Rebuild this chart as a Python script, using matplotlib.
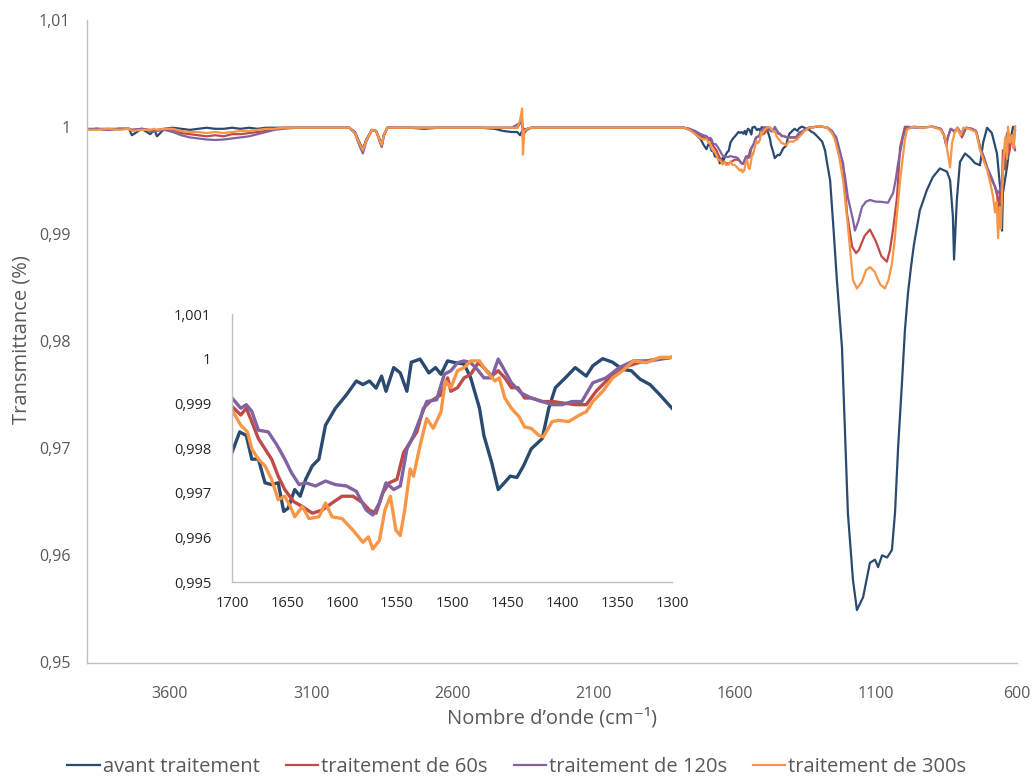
import matplotlib
matplotlib.use("Agg")
import matplotlib.pyplot as plt
from matplotlib.ticker import FuncFormatter

plt.rcParams['font.family'] = ['Open Sans', 'DejaVu Sans']

SERIES_NAMES = ["avant traitement", "traitement de 60s", "traitement de 120s", "traitement de 300s"]
COLORS = ['#2b4a6f', '#be4b48', '#8064a2', '#f79646']

# partie haute du spectre (3900 -> 1800 cm-1), grille commune
wn_high = [3894, 3860, 3820, 3780, 3745, 3735, 3700, 3670, 3655, 3646,
           3620, 3590, 3560, 3530, 3500, 3470, 3440, 3410, 3380, 3350,
           3320, 3290, 3260, 3230, 3200, 3150, 3100, 3050, 3000, 2965,
           2945, 2930, 2917, 2905, 2885, 2870, 2857, 2850, 2843, 2830,
           2800, 2750, 2700, 2650, 2600, 2550, 2500, 2450, 2420, 2390,
           2370, 2360, 2353, 2350, 2345, 2335, 2320, 2300, 2250, 2200,
           2150, 2100, 2050, 2000, 1950, 1900, 1850, 1800]

avant_high = [0.9997, 0.9998, 0.9997, 0.9998, 0.9998, 0.9992, 0.9998, 0.9993, 0.9997, 0.9991,
              0.9998, 0.9999, 0.9998, 0.9997, 0.9998, 0.9999, 0.9998, 0.9998, 0.9999, 0.9998,
              0.9999, 0.9998, 0.9999, 0.9999, 0.9999, 0.9999, 0.9999, 0.9999, 0.9999, 0.9999,
              0.9995, 0.9986, 0.9979, 0.9988, 0.9997, 0.9996, 0.9988, 0.9983, 0.9992, 0.9999,
              0.9999, 0.9999, 0.9998, 0.9999, 0.9999, 0.9999, 0.9999, 0.9998, 0.9996, 0.9995,
              0.9995, 0.9992, 0.9996, 0.9997, 0.9994, 0.9998, 0.9999, 0.9999, 0.9999, 0.9999,
              0.9999, 0.9999, 0.9999, 0.9999, 0.9999, 0.9999, 0.9999, 0.9999]
t60_high = [0.9997, 0.9998, 0.9998, 0.9998, 0.9998, 0.9997, 0.9998, 0.9997, 0.9996, 0.9997,
            0.9998, 0.9997, 0.9994, 0.9993, 0.9992, 0.9991, 0.9992, 0.9991, 0.9993, 0.9993,
            0.9994, 0.9995, 0.9996, 0.9998, 0.9999, 0.9999, 0.9999, 0.9999, 0.9999, 0.9999,
            0.9994, 0.9984, 0.9977, 0.9987, 0.9997, 0.9996, 0.9987, 0.9982, 0.9992, 0.9999,
            0.9999, 0.9999, 0.9999, 0.9999, 0.9999, 0.9999, 0.9999, 0.9999, 0.9999, 0.9999,
            0.9999, 1.0003, 1.0008, 0.9990, 0.9998, 0.9997, 0.9999, 0.9999, 0.9999, 0.9999,
            0.9999, 0.9999, 0.9999, 0.9999, 0.9999, 0.9999, 0.9999, 0.9999]
t120_high = [0.9998, 0.9998, 0.9997, 0.9998, 0.9998, 0.9997, 0.9998, 0.9996, 0.9995, 0.9996,
             0.9997, 0.9995, 0.9992, 0.9990, 0.9989, 0.9988, 0.99876, 0.9988, 0.9989, 0.9990,
             0.9991, 0.9993, 0.9995, 0.9997, 0.9998, 0.9999, 0.9999, 0.9999, 0.9999, 0.9999,
             0.9994, 0.9983, 0.9975, 0.9986, 0.9997, 0.9996, 0.9986, 0.9981, 0.9991, 0.9999,
             0.9999, 0.9999, 0.9999, 0.9999, 0.9999, 0.9999, 0.9999, 0.9999, 0.9999, 0.9999,
             1.0002, 1.0004, 1.0003, 0.9994, 0.9997, 0.9998, 0.9999, 0.9999, 0.9999, 0.9999,
             0.9999, 0.9999, 0.9999, 0.9999, 0.9999, 0.9999, 0.9999, 0.9999]
t300_high = [0.9997, 0.9997, 0.9998, 0.9997, 0.9998, 0.9996, 0.9997, 0.9997, 0.9998, 0.9997,
             0.9998, 0.9998, 0.9996, 0.9995, 0.9995, 0.9994, 0.9995, 0.9994, 0.9995, 0.9996,
             0.9996, 0.9997, 0.9998, 0.9998, 0.9999, 0.9999, 0.9999, 0.9999, 0.9999, 0.9999,
             0.9994, 0.9985, 0.9978, 0.9987, 0.9997, 0.9996, 0.9987, 0.9983, 0.9992, 0.9999,
             0.9999, 0.9999, 0.9999, 0.9999, 0.9999, 0.9999, 0.9999, 0.9999, 0.9999, 0.9999,
             0.9999, 1.0006, 1.0017, 0.9974, 0.9996, 0.9998, 0.9999, 0.9999, 0.9999, 0.9999,
             0.9999, 0.9999, 0.9999, 0.9999, 0.9999, 0.9999, 0.9999, 0.9999]

# partie basse (1780 -> 600 cm-1), points propres a chaque courbe
avant_low_x = [1780, 1760, 1741, 1720, 1710,
               1700, 1693, 1687, 1682, 1676, 1670, 1664, 1658, 1653, 1649, 1643, 1638, 1633, 1627, 1621,
               1615, 1606, 1596, 1587, 1581, 1575, 1569, 1564, 1560, 1553, 1547, 1541, 1537, 1529, 1521,
               1515, 1510, 1504, 1497, 1489, 1483, 1475, 1471, 1464, 1458, 1454, 1447, 1441, 1435, 1428,
               1418, 1412, 1406, 1397, 1388, 1378, 1372, 1363, 1354, 1345, 1337, 1329, 1320, 1311, 1300,
               1290, 1280, 1272, 1262, 1250, 1238, 1220, 1199, 1181, 1167, 1145, 1121, 1103, 1092, 1078,
               1060, 1043, 1032, 1021, 1007, 997, 986, 975, 965, 944, 919, 898, 873, 848, 837,
               827, 823, 818, 813, 802, 784, 766, 749, 731, 720, 706, 689, 671, 660, 653,
               650, 635, 625, 614, 607]
avant_low_y = [0.9999, 0.9997, 0.9994, 0.9988, 0.9983,
               0.99790, 0.99836, 0.99828, 0.99775, 0.99775, 0.99722, 0.99718, 0.99722, 0.99658, 0.99665,
               0.99707, 0.99692, 0.99730, 0.99760, 0.99775,
               0.99851, 0.99889, 0.99919, 0.99950, 0.99942, 0.99950, 0.99934, 0.99961, 0.99927, 0.99980,
               0.99968, 0.99927, 0.99992, 0.99999, 0.99968,
               0.99980, 0.99965, 0.99995, 0.99991, 0.99988, 0.99957, 0.99889, 0.99828, 0.99768, 0.99707,
               0.99718, 0.99737, 0.99734, 0.99760, 0.99798,
               0.99821, 0.99889, 0.99935, 0.99957, 0.99980, 0.99961, 0.99984, 1.00000, 0.99992, 0.99976,
               0.99973, 0.99954, 0.99942, 0.99919, 0.99889,
               0.9986, 0.9978, 0.9965, 0.9950, 0.9905, 0.98569, 0.97944, 0.96395, 0.95770, 0.95490,
               0.9561, 0.9593, 0.9596, 0.9589, 0.9600,
               0.9598, 0.9605, 0.9640, 0.9701, 0.9763, 0.9810, 0.9845, 0.9870, 0.9890, 0.9922,
               0.9941, 0.9953, 0.9961, 0.9958, 0.9950,
               0.9916, 0.9876, 0.9905, 0.9932, 0.9967, 0.9975, 0.9971, 0.9966, 0.9964, 0.9985,
               0.9999, 0.9994, 0.9975, 0.9944, 0.9903,
               0.9938, 0.9963, 0.9985, 1.0000, 0.9997]

t60_low_x = [1780, 1760, 1740, 1720, 1710,
             1700, 1692, 1687, 1682, 1676, 1670, 1664, 1658, 1652, 1644, 1636, 1627, 1618, 1609, 1600,
             1590, 1581, 1575, 1569, 1563, 1557, 1550, 1544, 1538, 1532, 1526, 1520, 1510, 1504, 1501,
             1495, 1489, 1483, 1476, 1471, 1464, 1458, 1452, 1446, 1440, 1434, 1428, 1418, 1408, 1397,
             1388, 1378, 1369, 1357, 1345, 1329, 1314, 1300,
             1290, 1273, 1260, 1245, 1230, 1216, 1202, 1184, 1170, 1160, 1140, 1121, 1100, 1080, 1061,
             1050, 1039, 1025, 1014, 997, 980, 960, 940, 900, 870, 860, 852, 845, 835, 820,
             812, 795, 780, 760, 745, 731, 715, 706, 689, 678, 670, 665, 660, 655, 650,
             642, 635, 628, 618, 612, 607]
t60_low_y = [0.9999, 0.9998, 0.9995, 0.9991, 0.9990,
             0.99893, 0.99874, 0.99889, 0.99859, 0.99821, 0.99798, 0.99775, 0.99737, 0.99707, 0.99680,
             0.99669, 0.99654, 0.99661, 0.99677, 0.99692,
             0.99692, 0.99677, 0.99661, 0.99654, 0.99699, 0.99722, 0.99730, 0.99790, 0.99813, 0.99836,
             0.99889, 0.99904, 0.99919, 0.99957, 0.99927,
             0.99935, 0.99957, 0.99965, 0.99991, 0.99980, 0.99961, 0.99973, 0.99957, 0.99935, 0.99935,
             0.99912, 0.99912, 0.99904, 0.99904, 0.99900,
             0.99897, 0.99897, 0.99927, 0.99957, 0.99980, 0.99992, 0.99999, 1.00003,
             1.0000, 0.9999, 0.9996, 0.9990, 0.9978, 0.9966, 0.9919, 0.9888, 0.9882, 0.9885,
             0.9898, 0.9904, 0.9893, 0.9879, 0.9874,
             0.9885, 0.9904, 0.9934, 0.9981, 1.0000, 0.9999, 1.0000, 0.9999, 1.0000, 0.9998,
             0.9993, 0.9984, 0.9990, 0.9998, 0.9995,
             0.9999, 0.9990, 0.9999, 0.9998, 0.9996, 0.9981, 0.9970, 0.9962, 0.9950, 0.9944,
             0.9935, 0.9920, 0.9941, 0.9930, 0.9978,
             0.9960, 0.9994, 0.9975, 0.9992, 0.9980, 1.0000]

t120_low_x = [1780, 1760, 1740, 1720, 1710,
              1700, 1692, 1687, 1682, 1676, 1667, 1659, 1652, 1646, 1639, 1633, 1624, 1615, 1606, 1596,
              1587, 1578, 1572, 1566, 1560, 1553, 1547, 1541, 1535, 1529, 1523, 1514, 1507, 1501, 1495,
              1489, 1483, 1476, 1471, 1464, 1458, 1452, 1446, 1437, 1428, 1418, 1409, 1400, 1391, 1382,
              1372, 1360, 1348, 1335, 1320, 1300,
              1290, 1270, 1255, 1240, 1225, 1210, 1199, 1181, 1174, 1162, 1149, 1135, 1121, 1100, 1085,
              1057, 1039, 1030, 1021, 1004, 990, 960, 900, 870, 858, 850, 845, 835, 820, 810,
              795, 780, 760, 745, 731, 715, 706, 689, 678, 668, 660, 652, 645, 635, 625,
              615, 607]
t120_low_y = [0.9999, 0.9998, 0.9996, 0.9993, 0.9992,
              0.99912, 0.99889, 0.99897, 0.99882, 0.99840, 0.99836, 0.99806, 0.99775, 0.99745, 0.99718,
              0.99722, 0.99715, 0.99726, 0.99718, 0.99715,
              0.99703, 0.99661, 0.99650, 0.99677, 0.99722, 0.99707, 0.99715, 0.99798, 0.99828, 0.99866,
              0.99904, 0.99908, 0.99965, 0.99973, 0.99991,
              0.99995, 0.99991, 0.99973, 0.99957, 0.99957, 0.99999, 0.99973, 0.99946, 0.99923, 0.99912,
              0.99904, 0.99897, 0.99897, 0.99904, 0.99904,
              0.99946, 0.99957, 0.99980, 0.99995, 0.99995, 1.00003,
              1.0000, 0.9999, 0.9996, 0.9990, 0.9975, 0.9955, 0.9934, 0.9913, 0.9903, 0.9912,
              0.9925, 0.9930, 0.99316, 0.9930, 0.9930,
              0.9929, 0.9938, 0.9950, 0.9966, 0.9990, 1.0000, 0.9999, 1.0000, 0.9998, 0.9992,
              0.9982, 0.9990, 0.9998, 0.9996, 0.9999,
              0.9992, 0.9999, 0.9998, 0.9996, 0.9981, 0.9968, 0.9962, 0.9952, 0.9944, 0.9938,
              0.9941, 0.9950, 0.9975, 0.9994, 0.9985,
              0.9990, 0.9978]

t300_low_x = [1780, 1760, 1740, 1720, 1710,
              1700, 1692, 1686, 1682, 1676, 1670, 1664, 1658, 1652, 1647, 1643, 1636, 1630, 1621, 1615,
              1609, 1600, 1590, 1581, 1576, 1572, 1566, 1561, 1556, 1551, 1547, 1543, 1538, 1535, 1529,
              1523, 1517, 1510, 1506, 1501, 1495, 1489, 1483, 1475, 1469, 1461, 1457, 1452, 1446, 1439,
              1434, 1428, 1421, 1417, 1409, 1403, 1394, 1384, 1378, 1372, 1363, 1354, 1345, 1335, 1323,
              1311, 1300,
              1290, 1273, 1255, 1245, 1230, 1216, 1200, 1192, 1181, 1167, 1150, 1135, 1121, 1105, 1085,
              1068, 1055, 1043, 1033, 1025, 1014, 1007, 997, 990, 970, 940, 900, 870, 855, 845,
              837, 830, 820, 812, 800, 790, 770, 745, 731, 715, 706, 695, 685, 678, 672,
              667, 662, 657, 650, 642, 635, 632, 625, 618, 612, 607]
t300_low_y = [0.9999, 0.9997, 0.9993, 0.9989, 0.9988,
              0.99885, 0.99851, 0.99836, 0.99798, 0.99775, 0.99760, 0.99730, 0.99684, 0.99692, 0.99669,
              0.99646, 0.99669, 0.99642, 0.99646, 0.99677,
              0.99646, 0.99642, 0.99616, 0.99589, 0.99601, 0.99574, 0.99593, 0.99661, 0.99692, 0.99616,
              0.99604, 0.99661, 0.99753, 0.99737, 0.99806,
              0.99866, 0.99844, 0.99881, 0.99950, 0.99935, 0.99973, 0.99980, 0.99995, 0.99995, 0.99973,
              0.99950, 0.99957, 0.99912, 0.99889, 0.99870,
              0.99847, 0.99844, 0.99828, 0.99825, 0.99859, 0.99862, 0.99859, 0.99874, 0.99881, 0.99904,
              0.99927, 0.99957, 0.99973, 0.99995, 0.99991,
              1.00003, 1.00003,
              1.0000, 0.9999, 0.9994, 0.9988, 0.9972, 0.9950, 0.9910, 0.9888, 0.9857, 0.9849,
              0.9855, 0.9866, 0.9869, 0.9865, 0.9853,
              0.9849, 0.9857, 0.9872, 0.9895, 0.9919, 0.9950, 0.9966, 0.9988, 0.9997, 1.0000,
              0.9999, 1.0000, 0.9997, 0.9990, 0.9975,
              0.9962, 0.9985, 0.9995, 0.9999, 0.9992, 0.9999, 0.9998, 0.9995, 0.9978, 0.9966,
              0.9960, 0.9948, 0.9935, 0.9920, 0.9930,
              0.9896, 0.9925, 0.9905, 0.9960, 0.9990, 0.9970, 1.0000, 0.9985, 0.9992, 0.9980,
              1.0000]

main_xticks = [3600, 3100, 2600, 2100, 1600, 1100, 600]
main_yticks = [0.95, 0.96, 0.97, 0.98, 0.99, 1.0, 1.01]
inset_xticks = [1700, 1650, 1600, 1550, 1500, 1450, 1400, 1350, 1300]
inset_yticks = [0.995, 0.996, 0.997, 0.998, 0.999, 1.0, 1.001]

series = [
    (wn_high + avant_low_x, avant_high + avant_low_y),
    (wn_high + t60_low_x, t60_high + t60_low_y),
    (wn_high + t120_low_x, t120_high + t120_low_y),
    (wn_high + t300_low_x, t300_high + t300_low_y),
]


def virgule(v, pos=None):
    return f"{round(v, 4):g}".replace('.', ',')


W, H = 1034, 780
fig = plt.figure(figsize=(W / 100, H / 100), dpi=100)
ax = fig.add_axes([87 / W, 1 - 662.5 / H, (1017 - 87) / W, (662.5 - 19.5) / H])

for (x, y), c, nom in zip(series, COLORS, SERIES_NAMES):
    ax.plot(x, y, color=c, lw=1.6, label=nom)

ax.set_xlim(3894, 600)
ax.set_ylim(0.95, 1.01)
ax.set_xticks(main_xticks)
ax.set_yticks(main_yticks)
ax.yaxis.set_major_formatter(FuncFormatter(virgule))
ax.tick_params(length=0, labelsize=11.5, labelcolor='#595959')
ax.tick_params(axis='y', pad=12)
ax.tick_params(axis='x', pad=17)
for s in ['top', 'right']:
    ax.spines[s].set_visible(False)
for s in ['left', 'bottom']:
    ax.spines[s].set_color('#bfbfbf')
    ax.spines[s].set_linewidth(1.0)

fig.text(22 / W, 1 - 340 / H, "Transmittance (%)", rotation=90, ha='center', va='center',
         fontsize=14.5, color='#595959')
fig.text(552 / W, 1 - 718 / H, "Nombre d\u2019onde (cm\u207b\u00b9)", ha='center', va='center',
         fontsize=14.5, color='#595959', family=['Open Sans', 'DejaVu Sans'])

# encart 1700-1300
axi = fig.add_axes([232 / W, 1 - 582 / H, (672 - 232) / W, (582 - 314) / H])
for (x, y), c in zip(series, COLORS):
    axi.plot(x, y, color=c, lw=2.4)
axi.set_xlim(1700, 1300)
axi.set_ylim(0.995, 1.001)
axi.set_xticks(inset_xticks)
axi.set_yticks(inset_yticks)
axi.yaxis.set_major_formatter(FuncFormatter(virgule))
axi.tick_params(length=0, labelsize=10.5, labelcolor='#262626')
axi.tick_params(axis='y', pad=15)
axi.tick_params(axis='x', pad=10)
for s in ['top', 'right']:
    axi.spines[s].set_visible(False)
for s in ['left', 'bottom']:
    axi.spines[s].set_color('#bfbfbf')
    axi.spines[s].set_linewidth(1.0)

handles, labels = ax.get_legend_handles_labels()
fig.legend(handles, labels, loc='center', bbox_to_anchor=(0.5, 1 - 767 / H), ncol=4,
           frameon=False, fontsize=14.5, labelcolor='#595959', handlelength=1.6,
           handletextpad=0.15, columnspacing=1.3)

fig.savefig("out.png", dpi=100)
